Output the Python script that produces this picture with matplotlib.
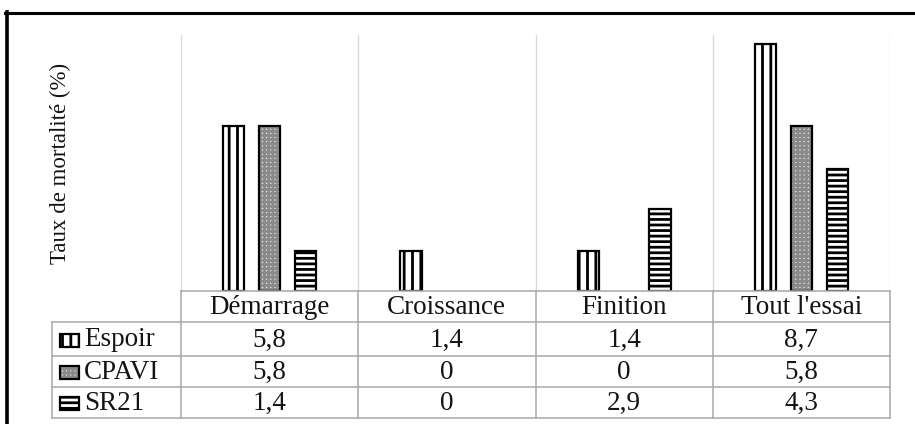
import matplotlib.pyplot as plt
from matplotlib.patches import Rectangle
from matplotlib.lines import Line2D
import numpy as np

# mortality rate per phase and per strain
phases = ['Démarrage', 'Croissance', 'Finition', "Tout l'essai"]
strains = ['Espoir', 'CPAVI', 'SR21']
espoir = [5.8, 1.4, 1.4, 8.7]
cpavi = [5.8, 0, 0, 5.8]
sr21 = [1.4, 0, 2.9, 4.3]
values = [espoir, cpavi, sr21]

W, H = 915, 424
plt.rcParams['font.family'] = ['Liberation Serif', 'DejaVu Serif']
plt.rcParams['hatch.linewidth'] = 2.0

fig = plt.figure(figsize=(W / 100, H / 100), dpi=100)

# plot area in pixels (left, top, right, bottom)
L, T, R, B = 181, 35, 890, 291
ax = fig.add_axes([L / W, 1 - B / H, (R - L) / W, (B - T) / H])

x = np.arange(len(phases))
bw = 0.12
step = 0.203

styles = [
    dict(facecolor='white', edgecolor='black', hatch='||'),
    dict(facecolor='#e2e2e2', edgecolor='#8a8a8a', hatch='++++'),
    dict(facecolor='white', edgecolor='black', hatch='---'),
]

for i, (vals, st) in enumerate(zip(values, styles)):
    keep = [k for k, v in enumerate(vals) if v > 0]
    xs = x[keep] + (i - 1) * step
    hs = [vals[k] for k in keep]
    ax.bar(xs, hs, bw, color=st['facecolor'], edgecolor=st['edgecolor'],
           hatch=st['hatch'], linewidth=0, zorder=3)
    # black outline on top of the hatch
    ax.bar(xs, hs, bw, fill=False, edgecolor='black', linewidth=1.6, zorder=4)

ax.set_xlim(-0.5, len(phases) - 0.5)
ax.set_ylim(0, 9)
ax.set_xticks([])
ax.set_yticks([])
for s in ax.spines.values():
    s.set_visible(False)

# light vertical separators between phases
for xb in np.arange(-0.5, len(phases), 1.0):
    ax.axvline(xb, color='#d9d9d9', lw=1, zorder=1)

# data table below the bars, drawn in pixel coordinates
def fx(px):
    return px / W

def fy(py):
    return 1 - py / H

grid_c = '#a8a8a8'
txt_c = '#141414'
fs = 19.5
row_y = [291, 322, 356, 387, 418]
col_x = [L + k * (R - L) / len(phases) for k in range(len(phases) + 1)]
lab_x = 52

def hline(x0, x1, y):
    fig.add_artist(Line2D([fx(x0), fx(x1)], [fy(y), fy(y)], color=grid_c, lw=1.1))

def vline(xp, y0, y1):
    fig.add_artist(Line2D([fx(xp), fx(xp)], [fy(y0), fy(y1)], color=grid_c, lw=1.1))

hline(L, R, row_y[0])
for y in row_y[1:]:
    hline(lab_x, R, y)
vline(lab_x, row_y[1], row_y[-1])
for xp in col_x:
    vline(xp, row_y[0], row_y[-1])

for j, name in enumerate(phases):
    cx = (col_x[j] + col_x[j + 1]) / 2
    fig.text(fx(cx), fy((row_y[0] + row_y[1]) / 2 + 1), name, ha='center', va='center',
             fontsize=fs, color=txt_c)

for i, (name, vals, st) in enumerate(zip(strains, values, styles)):
    cy = (row_y[i + 1] + row_y[i + 2]) / 2 + 1
    for j, v in enumerate(vals):
        cx = (col_x[j] + col_x[j + 1]) / 2
        label = ('%g' % v).replace('.', ',')
        fig.text(fx(cx), fy(cy), label, ha='center', va='center', fontsize=fs, color=txt_c)
    fig.text(fx(84), fy(cy), name, ha='left', va='center', fontsize=fs, color=txt_c)
    # legend swatch in front of the strain name
    fig.add_artist(Rectangle((fx(60), fy(cy + 6.5)), fx(19), 13 / H, transform=fig.transFigure,
                             facecolor=st['facecolor'], edgecolor=st['edgecolor'],
                             hatch=st['hatch'], lw=0))
    fig.add_artist(Rectangle((fx(60), fy(cy + 6.5)), fx(19), 13 / H, transform=fig.transFigure,
                             fill=False, edgecolor='black', lw=1.6))

fig.text(fx(60), fy(163), 'Taux de mortalité (%)', rotation=90, ha='center', va='center',
         fontsize=16.5, color=txt_c)

# outer frame (top and left edges)
fig.add_artist(Line2D([fx(5), fx(W)], [fy(13), fy(13)], color='black', lw=2.2))
fig.add_artist(Line2D([fx(7), fx(7)], [fy(12), fy(H)], color='black', lw=2.6))

fig.savefig('out.png', dpi=100)
